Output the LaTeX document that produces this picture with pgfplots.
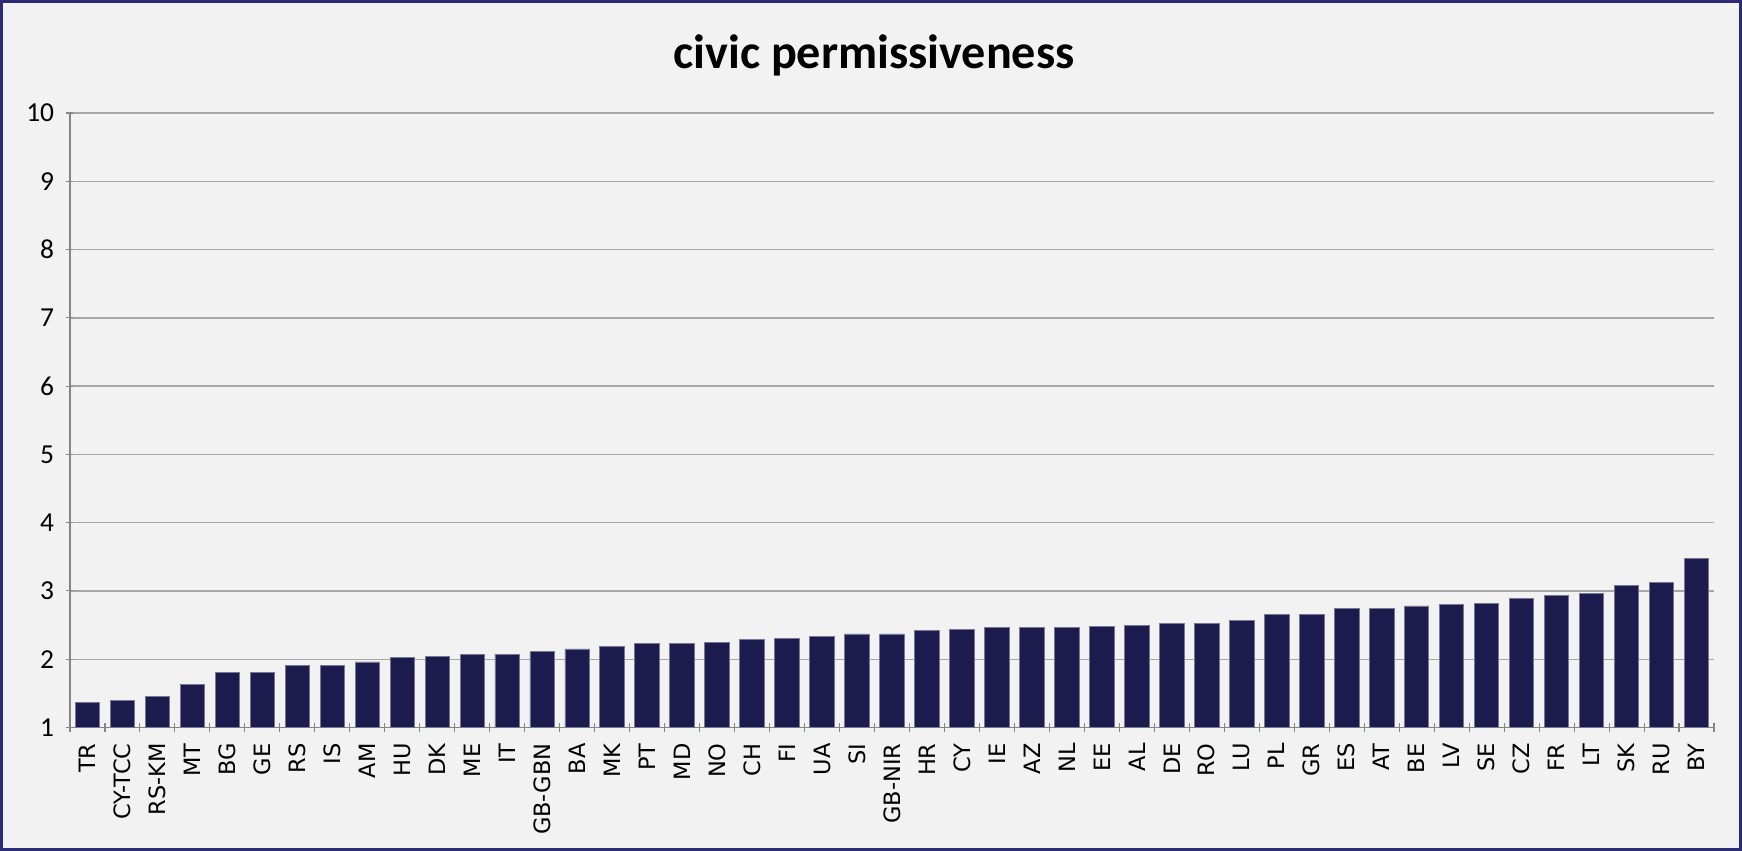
\documentclass[border=0pt]{standalone}
\usepackage{pgfplots}
\pgfplotsset{compat=1.18}
\usepackage{pgfplotstable}
\usepackage{fontspec}
\setmainfont{Carlito}
\newfontfamily\labelfont{DejaVu Sans}

\definecolor{bg}{HTML}{F2F2F2}
\definecolor{barnavy}{HTML}{1C1B4D}
\definecolor{frame}{HTML}{2B2C73}
\definecolor{gridgray}{HTML}{A6A6A6}

% civic permissiveness, by country (sorted)
\pgfplotstableread{
x  y
0  1.36
1  1.40
2  1.46
3  1.63
4  1.81
5  1.81
6  1.91
7  1.91
8  1.96
9  2.02
10 2.04
11 2.07
12 2.07
13 2.11
14 2.15
15 2.19
16 2.23
17 2.23
18 2.25
19 2.29
20 2.31
21 2.33
22 2.37
23 2.37
24 2.42
25 2.44
26 2.46
27 2.46
28 2.46
29 2.48
30 2.50
31 2.53
32 2.53
33 2.57
34 2.66
35 2.66
36 2.74
37 2.74
38 2.78
39 2.80
40 2.82
41 2.89
42 2.93
43 2.96
44 3.08
45 3.12
46 3.47
}\civic

\begin{document}
\begin{tikzpicture}
  \fill[bg] (0,0) rectangle (174.2mm,85.1mm);
  \begin{axis}[
    at={(7mm,12.35mm)}, anchor=south west,
    scale only axis,
    width=164.4mm, height=61.45mm,
    ybar, bar width=0.7,
    xmin=-0.5, xmax=46.5,
    ymin=1, ymax=10,
    ytick={1,...,10},
    xtick={0,...,46},
    xticklabels={TR,CY-TCC,RS-KM,MT,BG,GE,RS,IS,AM,HU,DK,ME,IT,GB-GBN,BA,MK,PT,MD,NO,CH,FI,UA,SI,GB-NIR,HR,CY,IE,AZ,NL,EE,AL,DE,RO,LU,PL,GR,ES,AT,BE,LV,SE,CZ,FR,LT,SK,RU,BY},
    minor xtick={-0.5,0.5,...,46.5},
    major x tick style={draw=none},
    minor tick length=0.9mm,
    major tick length=0.7mm,
    tick align=outside,
    tick style={gridgray!80!black, line width=0.3pt},
    axis lines=left,
    axis line style={-, draw=gridgray!80!black, line width=0.4pt},
    ymajorgrids,
    grid style={gridgray, line width=0.4pt},
    xticklabel style={rotate=90, anchor=east, font=\labelfont\fontsize{6.4}{7.5}\selectfont},
    yticklabel style={font=\fontsize{7.8}{9}\selectfont},
    /pgf/number format/assume math mode=true,
    clip=false,
  ]
    \addplot[fill=barnavy, draw=barnavy!60!white, line width=0.25pt] table[x=x, y=y] {\civic};
  \end{axis}
  \node[font=\bfseries\fontsize{13.7}{16}\selectfont] at (87.4mm,79.6mm) {civic permissiveness};
  \draw[frame, line width=0.3mm] (0.15mm,0.15mm) rectangle (174.05mm,84.95mm);
\end{tikzpicture}
\end{document}
